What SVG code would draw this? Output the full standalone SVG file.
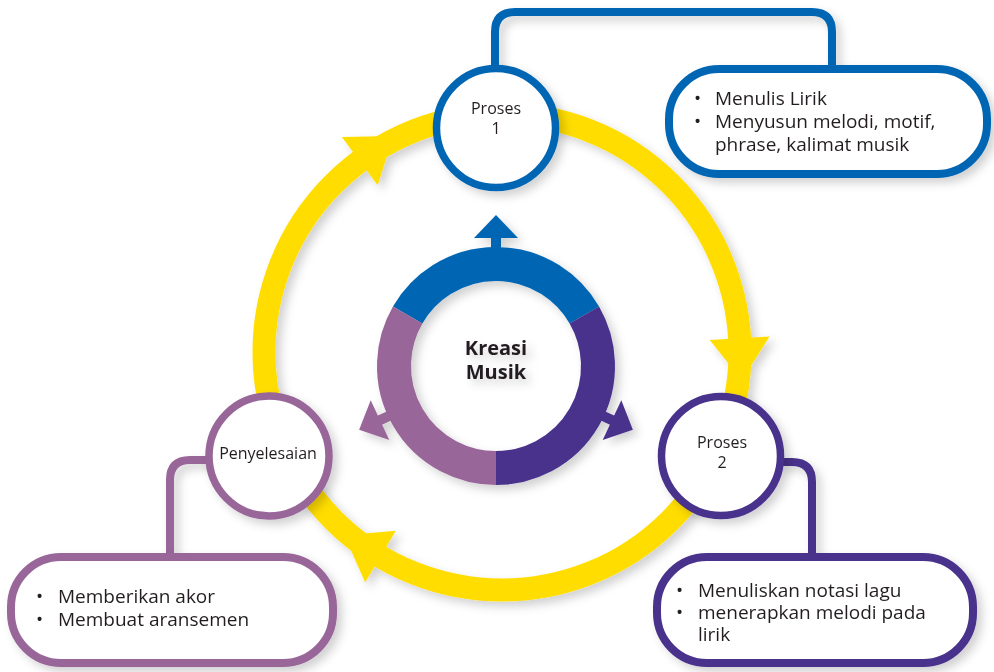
<svg xmlns="http://www.w3.org/2000/svg" width="994" height="672" viewBox="0 0 994 672">
<defs>
<filter id="sh" x="-20%" y="-20%" width="140%" height="140%">
<feDropShadow dx="5" dy="5" stdDeviation="5" flood-color="#000" flood-opacity="0.18"/>
</filter>
<style>
.t{font-family:"Open Sans","Noto Sans","Liberation Sans",sans-serif;fill:#231f20}
.nt{font-size:16px;text-anchor:middle}
.bt{font-size:19px}
.blue{stroke:#0066b3}
.dp{stroke:#48318c}
.lil{stroke:#986699}
.node{fill:#fff;stroke-width:7.5}
.box{fill:#fff;stroke-width:8}
.con{fill:none;stroke-width:8}
.ya{fill:#ffdd00}
</style>
</defs>
<rect width="994" height="672" fill="#fff"/>

<g id="cycle" filter="url(#sh)">
<circle cx="502" cy="352" r="238" fill="none" stroke="#ffdd00" stroke-width="23"/>
<polygon class="ya" points="710,352 770,352 740,394" transform="rotate(-3.3 502 352)"/>
<polygon class="ya" points="710,352 770,352 740,394" transform="rotate(120.7 502 352)"/>
<polygon class="ya" points="710,352 770,352 740,394" transform="rotate(233.3 502 352)"/>
</g>

<g id="center" filter="url(#sh)">
<path d="M407.67,315 A102,102 0 0 1 584.33,315" fill="none" stroke="#0066b3" stroke-width="34"/>
<path d="M584.33,315 A102,102 0 0 1 496,468" fill="none" stroke="#48318c" stroke-width="34"/>
<path d="M496,468 A102,102 0 0 1 407.67,315" fill="none" stroke="#986699" stroke-width="34"/>
<g fill="#0066b3"><rect x="491" y="235" width="10" height="14"/><polygon points="474,238 518,238 496,215"/></g>
<g fill="#48318c" transform="rotate(115 496 366)"><rect x="491" y="235" width="10" height="14"/><polygon points="474,238 518,238 496,215"/></g>
<g fill="#986699" transform="rotate(-115 496 366)"><rect x="491" y="235" width="10" height="14"/><polygon points="474,238 518,238 496,215"/></g>
<text class="t" font-size="20" font-weight="bold" text-anchor="middle"><tspan x="496" y="355">Kreasi</tspan><tspan x="496" y="379">Musik</tspan></text>
</g>

<g id="connectors" filter="url(#sh)">
<path class="con blue" d="M495,68 V32 Q495,12 515,12 H812 Q832,12 832,32 V68"/>
<path class="con dp" d="M778,462 H792 Q812,462 812,482 V558"/>
<path class="con lil" d="M212,460 H190 Q170,460 170,480 V558"/>
</g>

<g id="box1" filter="url(#sh)">
<rect class="box blue" x="669" y="69" width="318" height="105" rx="50"/>
<text class="t bt"><tspan x="694" y="105">•</tspan><tspan x="715" y="105">Menulis Lirik</tspan><tspan x="694" y="128">•</tspan><tspan x="715" y="128">Menyusun melodi, motif,</tspan><tspan x="715" y="150.5">phrase, kalimat musik</tspan></text>
</g>

<g id="box2" filter="url(#sh)">
<rect class="box dp" x="657" y="557" width="316" height="106" rx="50"/>
<text class="t bt"><tspan x="676" y="597">•</tspan><tspan x="698" y="597">Menuliskan notasi lagu</tspan><tspan x="676" y="619">•</tspan><tspan x="698" y="619">menerapkan melodi pada</tspan><tspan x="698" y="641">lirik</tspan></text>
</g>

<g id="box3" filter="url(#sh)">
<rect class="box lil" x="11" y="557" width="322" height="106" rx="50"/>
<text class="t bt"><tspan x="36" y="603">•</tspan><tspan x="58" y="603">Memberikan akor</tspan><tspan x="36" y="626">•</tspan><tspan x="58" y="626">Membuat aransemen</tspan></text>
</g>

<g id="proses1" filter="url(#sh)">
<circle class="node blue" cx="496" cy="128" r="59.5"/>
<text class="t nt"><tspan x="496" y="114">Proses</tspan><tspan x="496" y="134">1</tspan></text>
</g>

<g id="proses2" filter="url(#sh)">
<circle class="node dp" cx="721" cy="456" r="59.5"/>
<text class="t nt"><tspan x="722" y="448">Proses</tspan><tspan x="722" y="468">2</tspan></text>
</g>

<g id="penyelesaian" filter="url(#sh)">
<circle class="node lil" cx="269" cy="456" r="60"/>
<text class="t nt" x="268" y="459">Penyelesaian</text>
</g>
</svg>
